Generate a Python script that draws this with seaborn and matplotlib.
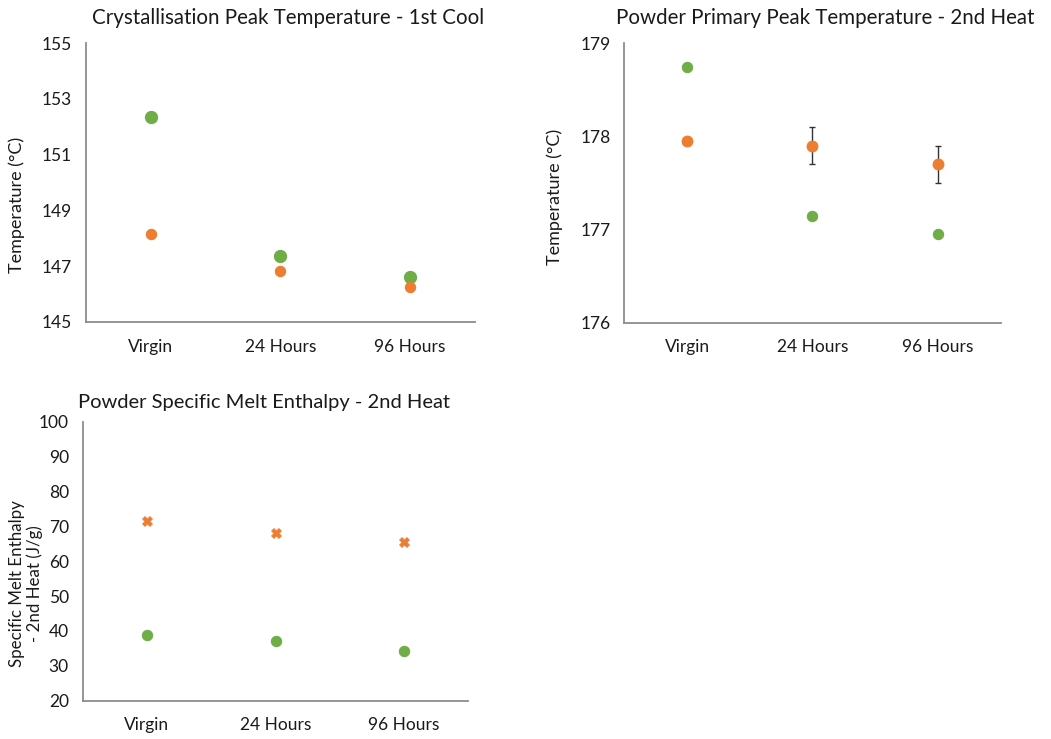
import matplotlib
matplotlib.use("Agg")
import matplotlib.pyplot as plt
import seaborn as sns
import pandas as pd
import numpy as np

categories = ["Virgin", "24 Hours", "96 Hours"]

# Panel 1: Crystallisation Peak Temperature - 1st Cool
cryst_green = [152.36, 147.35, 146.62]
cryst_orange = [148.17, 146.82, 146.25]

# Panel 2: Powder Primary Peak Temperature - 2nd Heat
peak_green = [178.75, 177.15, 176.95]
peak_orange = [177.95, 177.90, 177.70]
peak_orange_err = [0.03, 0.2, 0.2]
peak_green_err = [0.03, 0.03, 0.0]

# Panel 3: Powder Specific Melt Enthalpy - 2nd Heat
enth_orange = [71.5, 68.2, 65.6]
enth_green = [38.8, 37.2, 34.3]

ORANGE = "#ED7D31"
GREEN = "#70AD47"
AXIS = "#8c8c8c"
TEXT = "#1a1a1a"

sns.set_theme(style="white")
plt.rcParams['font.family'] = ['Lato', 'DejaVu Sans']

fig = plt.figure(figsize=(10.51, 7.39), dpi=100)

def make_df(green, orange):
    return pd.DataFrame({
        "Time": categories * 2,
        "Value": list(green) + list(orange),
        "Series": ["g"] * 3 + ["o"] * 3,
    })

def style_axes(ax, ylim, yticks, ylabels, minor=None):
    ax.set_xlim(-0.5, 2.5)
    ax.set_ylim(*ylim)
    for s in ["top", "right"]:
        ax.spines[s].set_visible(False)
    for s in ["left", "bottom"]:
        ax.spines[s].set_color(AXIS)
        ax.spines[s].set_linewidth(1.3)
    ax.set_xticks([0, 1, 2])
    ax.set_xticklabels(categories, fontsize=12.5, color=TEXT)
    ax.set_xticks([-0.5, 0.5, 1.5, 2.5], minor=True)
    ax.tick_params(axis="x", which="major", length=0, pad=12)
    ax.tick_params(axis="x", which="minor", length=5, width=1.2, color=AXIS, direction="out")
    ax.set_yticks(yticks)
    ax.set_yticklabels(ylabels, fontsize=12.5, color=TEXT)
    if minor is not None:
        ax.set_yticks(minor, minor=True)
        ax.tick_params(axis="y", which="minor", length=6, width=1.2, color=AXIS, direction="out")
    ax.tick_params(axis="y", which="major", length=6, width=1.2, color=AXIS, direction="out", pad=4)
    ax.set_xlabel("")
    ax.grid(False)

# Panel 1
ax1 = fig.add_axes([0.0818, 0.5643, 0.370, 0.3775])
df1 = make_df(cryst_green, cryst_orange)
sns.scatterplot(data=df1[df1.Series == "g"], x="Time", y="Value", color=GREEN, s=70,
                marker="o", edgecolor=GREEN, linewidth=1.2, ax=ax1, legend=False, zorder=3)
sns.scatterplot(data=df1[df1.Series == "o"], x="Time", y="Value", color=ORANGE, s=55,
                marker="o", edgecolor=ORANGE, linewidth=0.8, ax=ax1, legend=False, zorder=3)
style_axes(ax1, (145, 155), [145, 147, 149, 151, 153, 155],
           ["145", "147", "149", "151", "153", "155"])
ax1.set_ylabel("Temperature (°C)", fontsize=13, color=TEXT, va="center")
ax1.yaxis.set_label_coords(-0.177, 0.42)
ax1.set_title("Crystallisation Peak Temperature - 1st Cool", fontsize=14.8, color=TEXT, pad=14, x=0.52)

# Panel 2
ax2 = fig.add_axes([0.594, 0.5633, 0.3581, 0.378])
df2 = make_df(peak_green, peak_orange)
ax2.errorbar([0, 1, 2], peak_orange, yerr=peak_orange_err, fmt="none", ecolor="#333333",
             elinewidth=1.0, capsize=2.0, capthick=1.0, zorder=2)
ax2.errorbar([0, 1, 2], peak_green, yerr=peak_green_err, fmt="none", ecolor="#333333",
             elinewidth=1.0, capsize=2.0, capthick=1.0, zorder=2)
sns.scatterplot(data=df2[df2.Series == "g"], x="Time", y="Value", color=GREEN, s=55,
                marker="o", edgecolor=GREEN, linewidth=0.8, ax=ax2, legend=False, zorder=3)
sns.scatterplot(data=df2[df2.Series == "o"], x="Time", y="Value", color=ORANGE, s=60,
                marker="o", edgecolor=ORANGE, linewidth=0.8, ax=ax2, legend=False, zorder=3)
style_axes(ax2, (176, 179), [176, 177, 178, 179], ["176", "177", "178", "179"],
           minor=[176.5, 177.5, 178.5])
ax2.set_ylabel("Temperature (°C)", fontsize=13, color=TEXT, va="center")
ax2.yaxis.set_label_coords(-0.184, 0.45)
ax2.set_title("Powder Primary Peak Temperature - 2nd Heat", fontsize=14.8, color=TEXT, pad=14, x=0.535)

# Panel 3
ax3 = fig.add_axes([0.0787, 0.0518, 0.3669, 0.3775])
df3 = make_df(enth_green, enth_orange)
sns.scatterplot(data=df3[df3.Series == "o"], x="Time", y="Value", color=ORANGE, s=50,
                marker="X", edgecolor=ORANGE, linewidth=0.6, ax=ax3, legend=False, zorder=3)
sns.scatterplot(data=df3[df3.Series == "g"], x="Time", y="Value", color=GREEN, s=55,
                marker="o", edgecolor=GREEN, linewidth=0.8, ax=ax3, legend=False, zorder=3)
style_axes(ax3, (20, 100), list(range(20, 101, 10)), [str(v) for v in range(20, 101, 10)])
ax3.set_ylabel("Specific Melt Enthalpy\n- 2nd Heat (J/g)", fontsize=12.2, color=TEXT,
               linespacing=1.05, va="center")
ax3.yaxis.set_label_coords(-0.147, 0.42)
ax3.set_title("Powder Specific Melt Enthalpy - 2nd Heat", fontsize=14.5, color=TEXT, pad=10, x=0.47)

fig.savefig("out.png", dpi=100, facecolor="white")
